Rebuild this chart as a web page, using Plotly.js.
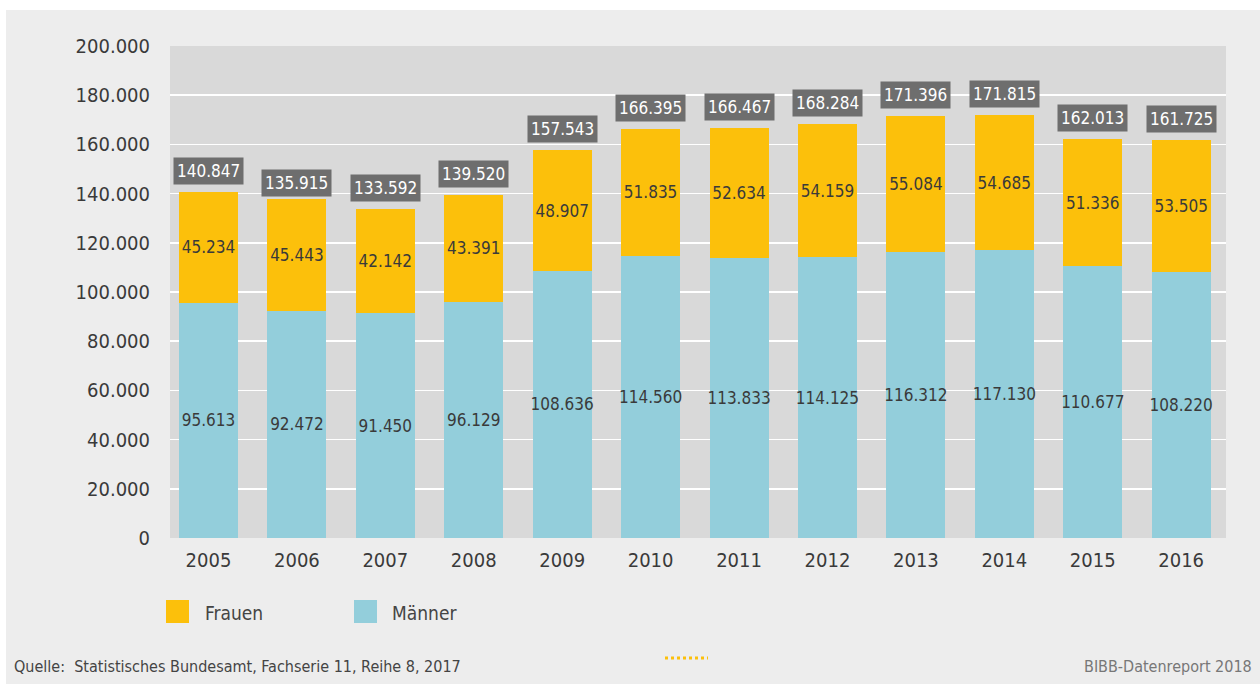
<!DOCTYPE html>
<html>
<head>
<meta charset="utf-8">
<script src="https://cdn.plot.ly/plotly-3.0.1.min.js"></script>
<style>html,body{margin:0;padding:0;background:#fff;}#chart{width:1260px;height:684px;}</style>
</head>
<body>
<div id="chart"></div>
<script>
const years = ['2005','2006','2007','2008','2009','2010','2011','2012','2013','2014','2015','2016'];
const maenner = [95613, 92472, 91450, 96129, 108636, 114560, 113833, 114125, 116312, 117130, 110677, 108220];
const frauen = [45234, 45443, 42142, 43391, 48907, 51835, 52634, 54159, 55084, 54685, 51336, 53505];
const totals = [140847, 135915, 133592, 139520, 157543, 166395, 166467, 168284, 171396, 171815, 162013, 161725];
const seriesNames = ['Frauen', 'Männer'];
const yTicks = [0, 20000, 40000, 60000, 80000, 100000, 120000, 140000, 160000, 180000, 200000];
const sourceText = 'Quelle:  Statistisches Bundesamt, Fachserie 11, Reihe 8, 2017';
const creditText = 'BIBB-Datenreport 2018';

const FONT = '"DejaVu Sans Condensed", "DejaVu Sans", sans-serif';
const YELLOW = '#fcc00b';
const CYAN = '#93cedb';

function de(n) { return String(n).replace(/\B(?=(\d{3})+(?!\d))/g, '.'); }
function tickLabel(n) { return n === 0 ? '0' : de(n); }

const common = {
  type: 'bar',
  x: years,
  textposition: 'inside',
  insidetextanchor: 'middle',
  textangle: 0,
  constraintext: 'none',
  textfont: {family: FONT, size: 17, color: '#3a3a3a'},
  hoverinfo: 'x+y+name',
  showlegend: false
};

const traceM = Object.assign({}, common, {
  name: seriesNames[1], y: maenner, text: maenner.map(de),
  marker: {color: CYAN, line: {width: 0}}
});
const traceF = Object.assign({}, common, {
  name: seriesNames[0], y: frauen, text: frauen.map(de),
  marker: {color: YELLOW, line: {width: 0}}
});

// pixel -> paper helpers (plot area 170..1226 x, 46..538 y)
const L = 170, R = 34, T = 46, B = 146, W = 1260, H = 684;
const pw = W - L - R, ph = H - T - B;
const px = v => (v - L) / pw;
const py = v => (H - B - v) / ph;

const annotations = totals.map((t, i) => ({
  x: i, y: t, xref: 'x', yref: 'y',
  text: de(t), showarrow: false,
  yanchor: 'bottom', yshift: 7,
  font: {family: FONT, size: 17, color: '#ffffff'},
  bgcolor: '#6e6e6e', borderpad: 3
}));

annotations.push(
  {xref: 'paper', yref: 'paper', x: px(203), y: py(613), xanchor: 'left', yanchor: 'middle',
   text: seriesNames[0], showarrow: false, font: {family: FONT, size: 19, color: '#444'}},
  {xref: 'paper', yref: 'paper', x: px(390), y: py(613), xanchor: 'left', yanchor: 'middle',
   text: seriesNames[1], showarrow: false, font: {family: FONT, size: 19, color: '#444'}},
  {xref: 'paper', yref: 'paper', x: px(12), y: py(666), xanchor: 'left', yanchor: 'middle',
   text: sourceText, showarrow: false, font: {family: FONT, size: 16, color: '#444'}},
  {xref: 'paper', yref: 'paper', x: px(1254), y: py(666), xanchor: 'right', yanchor: 'middle',
   text: creditText, showarrow: false, font: {family: FONT, size: 16, color: '#777'}}
);

const shapes = [
  {type: 'rect', xref: 'paper', yref: 'paper', x0: px(0), x1: px(W), y0: py(0), y1: py(10),
   fillcolor: '#ffffff', line: {width: 0}, layer: 'above'},
  {type: 'rect', xref: 'paper', yref: 'paper', x0: px(0), x1: px(6), y0: py(0), y1: py(H),
   fillcolor: '#ffffff', line: {width: 0}, layer: 'above'},
  {type: 'rect', xref: 'paper', yref: 'paper', x0: px(166), x1: px(189), y0: py(600), y1: py(623),
   fillcolor: YELLOW, line: {width: 0}},
  {type: 'rect', xref: 'paper', yref: 'paper', x0: px(354), x1: px(377), y0: py(600), y1: py(623),
   fillcolor: CYAN, line: {width: 0}},
  {type: 'line', xref: 'paper', yref: 'paper', x0: px(665), x1: px(708), y0: py(658), y1: py(658),
   line: {color: YELLOW, width: 3, dash: 'dot'}}
];

const layout = {
  width: W, height: H,
  margin: {l: L, r: R, t: T, b: B, pad: 0},
  paper_bgcolor: '#ededed',
  plot_bgcolor: '#d9d9d9',
  barmode: 'stack',
  bargap: 0.333,
  showlegend: false,
  font: {family: FONT, size: 20, color: '#3a3a3a'},
  xaxis: {
    type: 'category', range: [-0.435, 11.507], autorange: false,
    showgrid: false, zeroline: false, showline: false,
    ticks: 'outside', ticklen: 4, tickcolor: 'rgba(0,0,0,0)',
    tickfont: {family: FONT, size: 20, color: '#3a3a3a'}
  },
  yaxis: {
    range: [0, 200000], autorange: false, tickmode: 'array', tickvals: yTicks, ticktext: yTicks.map(tickLabel),
    showgrid: true, gridcolor: '#ffffff', gridwidth: 1.5, zeroline: false, showline: false,
    ticks: 'outside', ticklen: 15, tickcolor: 'rgba(0,0,0,0)',
    tickfont: {family: FONT, size: 20, color: '#3a3a3a'}
  },
  annotations: annotations,
  shapes: shapes
};

Plotly.newPlot('chart', [traceM, traceF], layout, {displayModeBar: false, staticPlot: true});
</script>
</body>
</html>
